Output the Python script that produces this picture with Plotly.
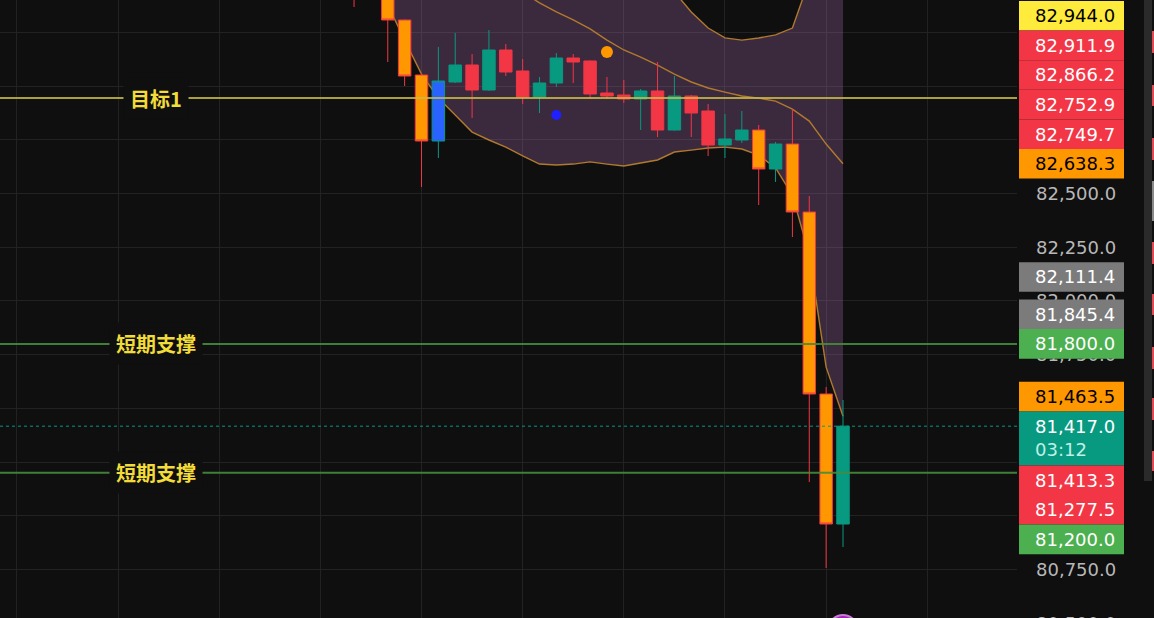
import plotly.graph_objects as go

# ---------------- data ----------------
bar_index = list(range(30))
bar_kind = ["red", "orange", "orange", "orange", "orange", "blue", "green", "red", "green", "red",
            "red", "green", "green", "red", "red", "red", "red", "green", "red", "green",
            "red", "red", "green", "green", "orange", "green", "orange", "orange", "orange", "green"]
open_p = [83520, 83470, 83430, 83307.5, 83051.5, 82744.3, 83018.9, 83098.1, 82981.7, 83167.9,
          83070.1, 82949.1, 83014.3, 83130.6, 83116.7, 82967.7, 82958.4, 82939.8, 82977.1, 82795.5,
          82953.8, 82884.0, 82725.7, 82749.0, 82795.5, 82614.0, 82730.4, 82413.9, 81566.8, 80961.8]
high_p = [83560, 83490, 83440, 83310, 83060.8, 83181.8, 83247.0, 83149.3, 83261.0, 83195.8,
          83126.0, 83042.2, 83153.9, 83149.3, 83119.5, 83042.2, 83028.3, 82986.4, 83112.0, 83046.9,
          82958.4, 82916.6, 82870.0, 82884.0, 82818.8, 82739.7, 82893.3, 82488.4, 81599.4, 81538.9]
low_p = [83368, 83415, 83112, 83000.3, 82530.3, 82665.2, 83015, 82851.4, 82978, 83046.9,
         82916.6, 82874.7, 82995.7, 83014.3, 82939.8, 82939.8, 82921.2, 82795.5, 82763.0, 82792,
         82763.0, 82674.5, 82665.2, 82735.0, 82446.5, 82553.5, 82297.5, 81157.3, 80757.0, 80854.7]
close_p = [83440, 83430, 83307.5, 83046.9, 82744.3, 83023.6, 83098.1, 82981.7, 83167.9, 83065.5,
           82949.1, 83014.3, 83130.6, 83112.0, 82963.1, 82953.8, 82939.8, 82977.1, 82795.5, 82953.8,
           82874.7, 82725.7, 82753.7, 82795.5, 82614.0, 82730.4, 82413.9, 81566.8, 80961.8, 81417.0]

bb_upper = [84266, 84281, 84327, 84350, 84378, 84370, 84337, 84314, 84257, 84244,
            84201, 84137, 84057, 83979, 83885, 83791, 83708, 83628, 83540, 83438,
            83345, 83270, 83224, 83214, 83224, 83238, 83270, 83494, 83768, 83813.1]
bb_basis = [83996, 83922, 83852, 83782, 83717, 83657, 83601, 83550, 83503, 83480,
            83438, 83387, 83345, 83308, 83266, 83214, 83168, 83135, 83098, 83056,
            83019, 82991, 82972, 82954, 82944, 82930, 82893, 82837, 82730, 82638.3]
bb_lower = [83726, 83563, 83377, 83214, 83056, 82944, 82865, 82786, 82749, 82716,
            82675, 82637, 82633, 82637, 82647, 82637, 82628, 82642, 82656, 82693,
            82702, 82712, 82716, 82707, 82679, 82619, 82493, 82214, 81692, 81463.5]

signal_sell_x = [15]
signal_sell_y = [83159]
signal_buy_x = [12]
signal_buy_y = [82865]
event_x = [29]
event_y = [80468]

level_names = ["目标1", "短期支撑", "短期支撑"]
level_values = [82944.0, 81800.0, 81200.0]
level_kinds = ["target", "support", "support"]

current_price = 81417.0
countdown = "03:12"
price_tags = [82944.0, 82911.9, 82866.2, 82752.9, 82749.7, 82638.3, 82111.4, 81845.4,
              81800.0, 81463.5, 81417.0, 81413.3, 81277.5, 81200.0]
price_tag_kinds = ["yellow", "red", "red", "red", "red", "orange", "grey", "grey",
                   "green", "orange", "teal", "red", "red", "green"]
tick_step = 250
extra_tick_values = [80500.0]

# ---------------- layout constants ----------------
W, H = 1154, 618
PLOT_W = 1017
X_RANGE = [-21.0, 39.32]
Y_RANGE = [80524.3, 83400.6]
BG = "#0f0f0f"
GRID = "#222222"
BAND = "#b07a2e"
TAG_H = 29.6
TEAL_TAG_H = 54.0
TICK_HALF = 8
AXIS_FONT = dict(family="DejaVu Sans", size=18, color="#b8b8b8")

tag_colors = {"yellow": ("#ffeb3b", "#000000"), "red": ("#f23645", "#ffffff"),
              "orange": ("#ff9800", "#000000"), "grey": ("#7b7b7b", "#ffffff"),
              "green": ("#4caf50", "#ffffff"), "teal": ("#089981", "#ffffff")}
candle_styles = {"green": ("#089981", "#089981"), "red": ("#f23645", "#f23645"),
                 "orange": ("#ff9800", "#f23645"), "blue": ("#2962ff", "#089981")}


def py_of(v):
    return (Y_RANGE[1] - v) / (Y_RANGE[1] - Y_RANGE[0]) * H


def xp(px):
    return px / PLOT_W


def yp(py):
    return 1 - py / H


def data_path(xs, ys, close=False):
    pts = ["%s,%s" % (x, y) for x, y in zip(xs, ys)]
    p = "M " + " L ".join(pts)
    return p + " Z" if close else p


fig = go.Figure()
shapes = []
annotations = []

# Bollinger band (drawn beneath the candles, from the data in axis units)
shapes.append(dict(type="path", xref="x", yref="y", layer="between",
                   path=data_path(bar_index + bar_index[::-1], bb_upper + bb_lower[::-1], close=True),
                   fillcolor="rgba(190,120,200,0.25)", line=dict(width=0)))
for series in (bb_upper, bb_lower, bb_basis):
    shapes.append(dict(type="path", xref="x", yref="y", layer="between",
                       path=data_path(bar_index, series), line=dict(color=BAND, width=1.4)))

# candles
for k, (fillc, linec) in candle_styles.items():
    sel = [i for i in bar_index if bar_kind[i] == k]
    st = dict(fillcolor=fillc, line=dict(color=linec, width=1))
    fig.add_trace(go.Candlestick(
        x=[bar_index[i] for i in sel],
        open=[open_p[i] for i in sel], high=[high_p[i] for i in sel],
        low=[low_p[i] for i in sel], close=[close_p[i] for i in sel],
        increasing=st, decreasing=st, whiskerwidth=0, hoverinfo="skip", showlegend=False))

# signal dots
fig.add_trace(go.Scatter(x=signal_sell_x, y=signal_sell_y, mode="markers",
                         marker=dict(size=12, color="#ff9800"), hoverinfo="skip"))
fig.add_trace(go.Scatter(x=signal_buy_x, y=signal_buy_y, mode="markers",
                         marker=dict(size=10, color="#1f1fff"), hoverinfo="skip"))
fig.add_trace(go.Scatter(x=event_x, y=event_y, mode="markers",
                         marker=dict(size=30, color="#9c27b0", line=dict(color="#c77dd8", width=2)),
                         hoverinfo="skip"))

# horizontal levels
for name, val, kind in zip(level_names, level_values, level_kinds):
    col = "rgba(200,185,70,0.85)" if kind == "target" else "rgba(70,140,60,0.9)"
    shapes.append(dict(type="line", xref="paper", x0=0, x1=1, yref="y", y0=val, y1=val,
                       line=dict(color=col, width=2), layer="above"))
    annotations.append(dict(xref="paper", x=xp(155.5), xanchor="center", yref="y", y=val,
                            yanchor="middle", text="<b>%s</b>" % name,
                            showarrow=False, bgcolor=BG, borderpad=6,
                            font=dict(family="Noto Sans CJK SC", size=20, color="#f2dc3a")))

# current price dotted line
shapes.append(dict(type="line", xref="paper", x0=0, x1=1, yref="y", y0=current_price, y1=current_price,
                   line=dict(color="#089981", width=1, dash="dot"), layer="above"))

# price tags on the axis: stack around the current-price tag
anchor = price_tags.index(current_price)
centers = [None] * len(price_tags)
a_nat = py_of(current_price)
a_top = a_nat - TAG_H / 2
a_bot = a_top + TEAL_TAG_H
centers[anchor] = (a_top + a_bot) / 2
prev_top = a_top
for i in range(anchor - 1, -1, -1):
    c = min(py_of(price_tags[i]), prev_top - TAG_H / 2)
    centers[i] = c
    prev_top = c - TAG_H / 2
prev_bot = a_bot
for i in range(anchor + 1, len(price_tags)):
    c = max(py_of(price_tags[i]), prev_bot + TAG_H / 2)
    centers[i] = c
    prev_bot = c + TAG_H / 2

tag_spans = []
for i, (v, kind) in enumerate(zip(price_tags, price_tag_kinds)):
    bgc, txc = tag_colors[kind]
    h = TEAL_TAG_H if i == anchor else TAG_H
    c = centers[i]
    tag_spans.append((c - h / 2, c + h / 2))
    shapes.append(dict(type="rect", xref="paper", yref="paper", x0=xp(1019), x1=xp(1124),
                       y0=yp(c + h / 2), y1=yp(c - h / 2), fillcolor=bgc,
                       line=dict(width=0), layer="above"))
    txt = "{:,.1f}".format(v)
    if i == anchor:
        txt = txt + "<br><span style='color:#bff0e6'>%s</span>" % countdown
    annotations.append(dict(xref="paper", x=xp(1116), xanchor="right", yref="paper", y=yp(c),
                            yanchor="middle", text=txt, showarrow=False, align="left", borderpad=0,
                            font=dict(family="DejaVu Sans", size=18, color=txc)))

# axis tick labels: leave out those that the price tags hide completely
merged = []
for s, e in sorted(tag_spans):
    if merged and s <= merged[-1][1] + 0.5:
        merged[-1][1] = max(merged[-1][1], e)
    else:
        merged.append([s, e])
tick_vals = []
tv = (int(Y_RANGE[0] // tick_step) + 1) * tick_step
while tv <= Y_RANGE[1]:
    c = py_of(tv)
    if not any(s <= c - TICK_HALF and c + TICK_HALF <= e for s, e in merged):
        tick_vals.append(tv)
    tv += tick_step

for v in extra_tick_values:
    annotations.append(dict(xref="paper", x=xp(1035), xanchor="left", yref="paper", y=yp(py_of(v)),
                            yanchor="middle", text="{:,.1f}".format(v), showarrow=False, borderpad=0,
                            font=AXIS_FONT))

# right edge strip (neighbouring panel)
shapes.append(dict(type="rect", xref="paper", yref="paper", x0=xp(1144), x1=xp(1152),
                   y0=yp(481), y1=yp(0), fillcolor="#2a2a2a", line=dict(width=0), layer="above"))
for y0, y1 in [(31, 53), (85, 106), (138, 160), (242, 264), (294, 315), (347, 369), (398, 420), (451, 471)]:
    shapes.append(dict(type="rect", xref="paper", yref="paper", x0=xp(1152), x1=xp(1155),
                       y0=yp(y1), y1=yp(y0), fillcolor="#e04a55", line=dict(width=0), layer="above"))
shapes.append(dict(type="rect", xref="paper", yref="paper", x0=xp(1152), x1=xp(1155),
                   y0=yp(221), y1=yp(181), fillcolor="#8a8a8a", line=dict(width=0), layer="above"))

fig.update_layout(
    width=W, height=H, margin=dict(l=0, r=W - PLOT_W, t=0, b=0),
    paper_bgcolor=BG, plot_bgcolor=BG, showlegend=False, hovermode=False,
    boxgap=0.26, boxgroupgap=0,
    shapes=shapes, annotations=annotations,
    xaxis=dict(range=X_RANGE, tickmode="linear", tick0=4, dtick=6, showgrid=True,
               gridcolor=GRID, gridwidth=1, showticklabels=False, zeroline=False,
               showline=False, rangeslider=dict(visible=False), fixedrange=True),
    yaxis=dict(side="right", range=Y_RANGE, tickmode="array", tickvals=tick_vals,
               tickformat=",.1f", showgrid=False, zeroline=False,
               showline=False, ticks="", ticklabelstandoff=18,
               minor=dict(tickmode="linear", tick0=0, dtick=tick_step, showgrid=True,
                          gridcolor=GRID, gridwidth=1, ticks=""),
               tickfont=AXIS_FONT, fixedrange=True),
)

fig.write_html("out.html", config={"displayModeBar": False},
               post_script="document.body.style.margin='0';")
